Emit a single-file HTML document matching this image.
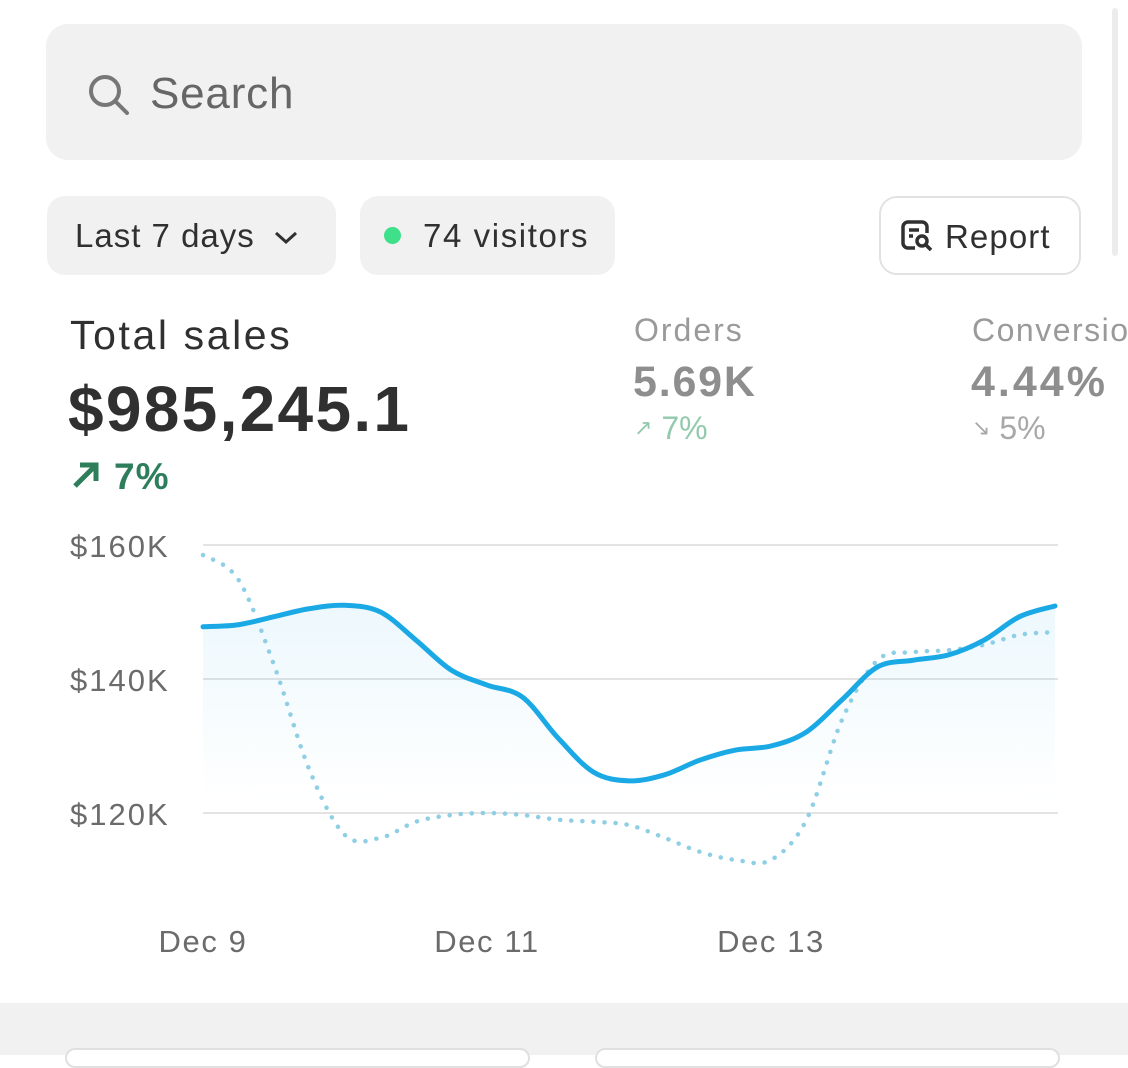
<!DOCTYPE html>
<html><head><meta charset="utf-8">
<style>
*{box-sizing:border-box;margin:0;padding:0}
body{width:1128px;height:1055px;overflow:hidden;background:#fff;font-family:"Liberation Sans",sans-serif;position:relative;color:#303030}
.abs{position:absolute}
#search{left:46px;top:24px;width:1036px;height:136px;background:#f1f1f1;border-radius:22px}
#search span{position:absolute;left:104px;top:45px;font-size:44px;color:#666;letter-spacing:0.8px}
.pill{top:196px;height:79px;background:#f1f1f1;border-radius:18px;font-size:33px;color:#303030;line-height:79px}
#report{left:879px;top:196px;width:202px;height:79px;border:2px solid #e2e2e2;border-radius:18px;font-size:33px;line-height:77px;padding-left:64px;letter-spacing:1.1px}
#scroll{left:1112px;top:8px;width:6px;height:248px;background:#ececec;border-radius:3px}
#bottom{left:0;top:1003px;width:1128px;height:52px;background:#f1f1f1}
.card{top:1048px;height:20px;background:#fff;border:2px solid #e0e0e0;border-radius:16px}
</style></head><body>
<div id="search" class="abs">
<svg class="abs" style="left:40px;top:48px" width="46" height="46" viewBox="0 0 46 46"><circle cx="19" cy="19" r="14" fill="none" stroke="#777" stroke-width="4"/><line x1="29" y1="29" x2="41" y2="41" stroke="#777" stroke-width="4" stroke-linecap="round"/></svg>
<span>Search</span></div>
<div class="abs pill" style="left:47px;width:289px;padding-left:28px;letter-spacing:1px">Last 7 days <svg width="26" height="18" viewBox="0 0 26 18" style="margin-left:8px"><path d="M3 4 L13 13 L23 4" fill="none" stroke="#303030" stroke-width="3"/></svg></div>
<div class="abs pill" style="left:360px;width:255px;padding-left:63px;letter-spacing:1.6px"><span class="abs" style="left:24px;top:31px;width:17px;height:17px;border-radius:50%;background:#3ee08a"></span>74 visitors</div>
<div id="report" class="abs">
<svg class="abs" style="left:18px;top:20px" width="36" height="36" viewBox="0 0 36 36"><path d="M16 30H9a5 5 0 0 1-5-5V9a5 5 0 0 1 5-5h14a5 5 0 0 1 5 5v6" fill="none" stroke="#303030" stroke-width="3.5"/><line x1="10" y1="12" x2="20" y2="12" stroke="#303030" stroke-width="3.5"/><line x1="10" y1="18" x2="14" y2="18" stroke="#303030" stroke-width="3.5"/><circle cx="23" cy="23" r="5" fill="none" stroke="#303030" stroke-width="3.5"/><line x1="27" y1="27" x2="32" y2="32" stroke="#303030" stroke-width="3.5"/></svg>Report</div>
<div id="scroll" class="abs"></div>
<div class="abs" style="left:70px;top:312px;font-size:41px;color:#303030;letter-spacing:2.6px">Total sales</div>
<div class="abs" style="left:68px;top:372px;font-size:64px;font-weight:bold;color:#303030;letter-spacing:2.3px">$985,245.1</div>
<div class="abs" style="left:70px;top:456px;font-size:37px;font-weight:bold;color:#2e7d5b;letter-spacing:1px"><svg width="32" height="32" viewBox="0 0 32 32" style="vertical-align:-2px;margin-right:12px"><path d="M5 27 L25 7 M10 6 H26 V22" fill="none" stroke="#2e7d5b" stroke-width="5"/></svg>7%</div>
<div class="abs" style="left:634px;top:312px;font-size:32px;color:#9a9a9a;letter-spacing:2px">Orders</div>
<div class="abs" style="left:633px;top:358px;font-size:43px;font-weight:bold;color:#8e8e8e;letter-spacing:1.8px">5.69K</div>
<div class="abs" style="left:634px;top:410px;font-size:32px;color:#93c9ad"><span style="font-size:22px;vertical-align:4px">↗</span> 7%</div>
<div class="abs" style="left:972px;top:312px;font-size:32px;color:#9a9a9a;white-space:nowrap;letter-spacing:1.5px">Conversion</div>
<div class="abs" style="left:971px;top:358px;font-size:43px;font-weight:bold;color:#8e8e8e;letter-spacing:3px">4.44%</div>
<div class="abs" style="left:972px;top:410px;font-size:32px;color:#a8a8a8"><span style="font-size:22px;vertical-align:4px">↘</span> 5%</div>
<svg id="chart" class="abs" style="left:0;top:500px" width="1128" height="480"></svg>
<div id="bottom" class="abs"></div>
<div class="abs card" style="left:65px;width:465px"></div>
<div class="abs card" style="left:595px;width:465px"></div>
<script>
const yTicks=[160,140,120];
const yTickLabels=["$160K","$140K","$120K"];
const xTickIdx=[0,8,16];
const xTickLabels=["Dec 9","Dec 11","Dec 13"];
const currentSales=[147.8,148.1,149.3,150.5,151.0,150.0,145.8,141.3,139.1,137.3,131.2,126.1,124.8,125.7,127.9,129.4,130.0,132.1,136.9,141.8,142.8,143.6,145.8,149.3,150.9];
const previousSales=[158.5,154.8,142.1,126.4,116.7,116.3,118.7,119.7,120.0,119.7,119.0,118.7,118.2,116.3,114.2,113.0,113.0,119.0,133.9,142.8,144.0,144.3,145.1,146.6,147.0];
const svg=document.getElementById('chart');
const NS='http://www.w3.org/2000/svg';
const X0=203,X1=1055,OFF=500;
const xs=i=>X0+i*(X1-X0)/(currentSales.length-1);
const ys=v=>545+(160-v)*6.7-OFF;
function mk(t,a){const e=document.createElementNS(NS,t);for(const k in a)e.setAttribute(k,a[k]);svg.appendChild(e);return e;}
function smooth(vals){let p=vals.map((v,i)=>[xs(i),ys(v)]);let d='M'+p[0][0]+' '+p[0][1];
for(let i=0;i<p.length-1;i++){const p0=p[Math.max(i-1,0)],p1=p[i],p2=p[i+1],p3=p[Math.min(i+2,p.length-1)];
const c1=[p1[0]+(p2[0]-p0[0])/6,p1[1]+(p2[1]-p0[1])/6],c2=[p2[0]-(p3[0]-p1[0])/6,p2[1]-(p3[1]-p1[1])/6];
d+=` C${c1[0]} ${c1[1]} ${c2[0]} ${c2[1]} ${p2[0]} ${p2[1]}`;}return d;}
const defs=mk('defs',{});
const g=document.createElementNS(NS,'linearGradient');g.setAttribute('id','fill');g.setAttribute('x1','0');g.setAttribute('y1','0');g.setAttribute('x2','0');g.setAttribute('y2','1');
g.innerHTML='<stop offset="0" stop-color="#1ba9e6" stop-opacity="0.08"/><stop offset="1" stop-color="#1ba9e6" stop-opacity="0"/>';defs.appendChild(g);
yTicks.forEach((t,i)=>{const l=mk('line',{x1:X0,x2:1058,y1:ys(t),y2:ys(t),stroke:'#e3e3e3','stroke-width':2});

const tx=mk('text',{x:70,y:ys(t)+12,'font-size':31,fill:'#6b6b6b','letter-spacing':2,'font-family':'Liberation Sans, sans-serif'});tx.textContent=yTickLabels[i];
});
xTickIdx.forEach((idx,i)=>{const tx=mk('text',{x:xs(idx),y:452,'font-size':31,fill:'#6b6b6b','text-anchor':'middle','letter-spacing':1.6,'font-family':'Liberation Sans, sans-serif'});tx.textContent=xTickLabels[i];
});
const line=smooth(currentSales);
const area=mk('path',{d:line+` L${xs(currentSales.length-1)} ${ys(122)} L${X0} ${ys(122)} Z`,fill:'url(#fill)'});

const prev=mk('path',{d:smooth(previousSales),fill:'none',stroke:'#8fcfe6','stroke-width':4.5,'stroke-dasharray':'0.1 11','stroke-linecap':'round'});

const cur=mk('path',{d:line,fill:'none',stroke:'#1ba9e6','stroke-width':5,'stroke-linecap':'round'});

</script>
</body></html>
